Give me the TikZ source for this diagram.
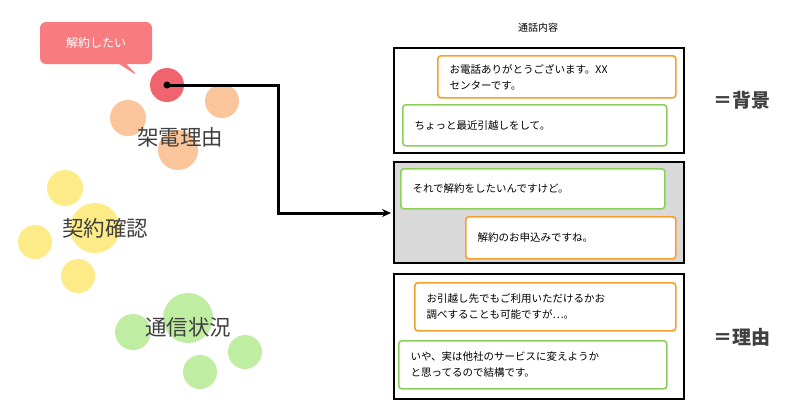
\documentclass[tikz,border=0pt]{standalone}
\usepackage{fontspec}
\setmainfont{Noto Sans CJK JP}
\usetikzlibrary{arrows.meta,shapes.callouts}
\definecolor{bub}{HTML}{F77B7F}
\definecolor{redc}{HTML}{F0646E}
\definecolor{ora}{HTML}{FAC59A}
\definecolor{yel}{HTML}{FCEB86}
\definecolor{gre}{HTML}{BFEEA2}
\definecolor{oline}{HTML}{F5A02A}
\definecolor{gline}{HTML}{8CD05A}
\definecolor{txt}{HTML}{404040}
\begin{document}
\begin{tikzpicture}[x=1pt,y=-1pt,
  circ/.style={circle,draw=none,inner sep=0pt},
  big/.style={font=\fontsize{21.5}{24}\selectfont,text=txt},
  outer/.style={draw=black,line width=1.5pt,anchor=north west,inner sep=0pt},
  msg/.style={draw,line width=1.6pt,rounded corners=3pt,fill=white,anchor=north west,inner sep=0pt},
  mt/.style={font=\fontsize{10.5}{16}\selectfont,align=left,anchor=west,text=black}]
\useasboundingbox (0,0) rectangle (798,408);
% circles
\node[circ,fill=ora,minimum size=36pt] (o1) at (128,118) {};
\node[circ,fill=ora,minimum size=34pt] (o2) at (222,101) {};
\node[circ,fill=ora,minimum size=40pt] (o3) at (178,150) {};
\node[circ,fill=yel,minimum size=36pt] (y1) at (65,188) {};
\node[circ,fill=yel,minimum size=50pt] (y2) at (95,228) {};
\node[circ,fill=yel,minimum size=34pt] (y3) at (35,242) {};
\node[circ,fill=yel,minimum size=34pt] (y4) at (78,276) {};
\node[circ,fill=gre,minimum size=50pt] (g1) at (188,318) {};
\node[circ,fill=gre,minimum size=36pt] (g2) at (133,332) {};
\node[circ,fill=gre,minimum size=34pt] (g3) at (245,352) {};
\node[circ,fill=gre,minimum size=34pt] (g4) at (200,372) {};
\node[circ,fill=redc,minimum size=34pt] (r) at (167,85) {};
\node[big] (l1) at (180,137) {架電理由};
\node[big] (l2) at (105,228) {契約確認};
\node[big] (l3) at (188,327) {通信状況};
% bubble
\node[rectangle callout,fill=bub,rounded corners=6pt,minimum width=112pt,minimum height=42pt,
  text=white,font=\fontsize{12}{14}\selectfont,callout absolute pointer={(138,76)}] (bubble) at (96,43) {解約したい};
% title
\node[font=\fontsize{10}{12}\selectfont] (title) at (538,28) {通話内容};
% outer boxes
\node[outer,minimum width=290pt,minimum height=105pt] (b1) at (393,47) {};
\node[outer,fill=black!15,minimum width=290pt,minimum height=101pt] (b2) at (393,161) {};
\node[outer,minimum width=290pt,minimum height=125pt] (b3) at (393,273) {};
% messages
\node[msg,draw=oline,minimum width=238pt,minimum height=42pt] (m1) at (437,55) {};
\node[mt] at ([xshift=9pt]m1.west) {お電話ありがとうございます。XX\\センターです。};
\node[msg,draw=gline,minimum width=264pt,minimum height=41pt] (m2) at (402,104) {};
\node[mt] at ([xshift=9pt]m2.west) {ちょっと最近引越しをして。};
\node[msg,draw=gline,minimum width=264pt,minimum height=40pt] (m3) at (400,168) {};
\node[mt] at ([xshift=9pt]m3.west) {それで解約をしたいんですけど。};
\node[msg,draw=oline,minimum width=210pt,minimum height=42pt] (m4) at (465,216) {};
\node[mt] at ([xshift=9pt]m4.west) {解約のお申込みですね。};
\node[msg,draw=oline,minimum width=261pt,minimum height=48pt] (m5) at (414,282) {};
\node[mt] at ([xshift=9pt]m5.west) {お引越し先でもご利用いただけるかお\\調べすることも可能ですが…。};
\node[msg,draw=gline,minimum width=268pt,minimum height=48pt] (m6) at (398,340) {};
\node[mt] at ([xshift=9pt]m6.west) {いや、実は他社のサービスに変えようか\\と思ってるので結構です。};
% side labels
\node[font=\bfseries\fontsize{19}{22}\selectfont,text=txt] (s1) at (742,100) {＝背景};
\node[font=\bfseries\fontsize{19}{22}\selectfont,text=txt] (s2) at (742,337) {＝理由};
% connector
\node[circle,fill=black,inner sep=0pt,minimum size=7pt] (dot) at (167,85) {};
\coordinate (c1) at (278,85);
\coordinate (c2) at (278,213);
\coordinate (tip) at (391,213);
\draw[line width=3pt,-{Stealth[length=9pt,width=8pt]}] (dot.center) -- (c1) -- (c2) -- (tip);
\end{tikzpicture}
\end{document}
